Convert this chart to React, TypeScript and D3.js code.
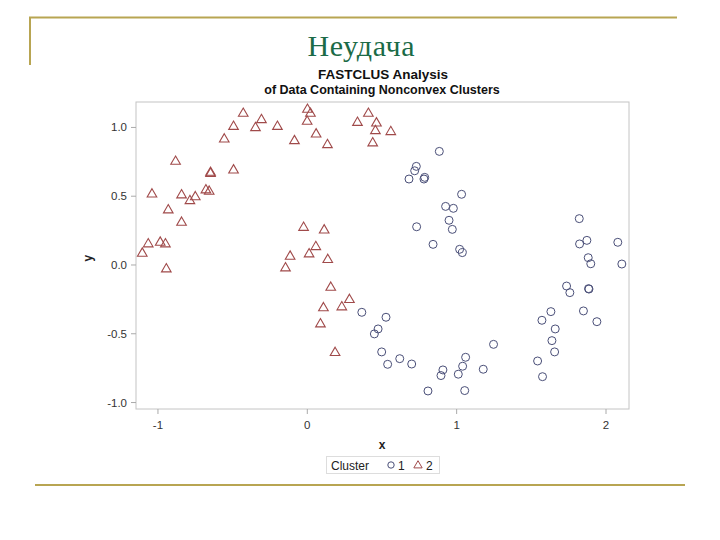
import React from "react";
import * as d3 from "d3";

const cluster1X = [0.884, 0.730, 0.719, 0.681, 0.786, 0.781, 1.033, 0.926, 0.978, 0.949, 0.971, 0.732, 0.842, 1.020, 1.038,
  0.365, 0.527, 0.474, 0.449, 0.498, 0.538, 0.619, 0.699, 0.808, 0.908, 0.895, 1.011, 1.040, 1.060, 1.054, 1.178, 1.247,
  1.821, 1.823, 1.872, 2.079, 1.881, 1.898, 2.106, 1.736, 1.758, 1.883, 1.886, 1.849, 1.939, 1.631, 1.571, 1.660, 1.638, 1.656, 1.542, 1.575];
const cluster1Y = [0.826, 0.717, 0.685, 0.625, 0.637, 0.625, 0.514, 0.426, 0.412, 0.325, 0.259, 0.278, 0.150, 0.114, 0.090,
  -0.344, -0.380, -0.465, -0.501, -0.632, -0.722, -0.681, -0.720, -0.916, -0.763, -0.804, -0.794, -0.736, -0.671, -0.913, -0.758, -0.577,
  0.337, 0.153, 0.179, 0.165, 0.053, 0.009, 0.007, -0.153, -0.201, -0.172, -0.175, -0.334, -0.412, -0.339, -0.402, -0.465, -0.550, -0.632, -0.698, -0.812];

const cluster2X = [-1.105, -1.065, -1.040, -0.985, -0.950, -0.944, -0.931, -0.882, -0.842, -0.842, -0.786, -0.750, -0.679, -0.657, -0.648, -0.648,
  -0.556, -0.494, -0.494, -0.429, -0.347, -0.307, -0.200, -0.086, 0.001, 0.021, -0.001, 0.059, -0.025, 0.012, 0.057, -0.146, -0.115,
  0.135, 0.336, 0.409, 0.463, 0.456, 0.438, 0.559, 0.113, 0.137, 0.157,
  0.282, 0.108, 0.231, 0.088, 0.186];
const cluster2Y = [0.090, 0.158, 0.520, 0.170, 0.158, -0.024, 0.405, 0.758, 0.514, 0.315, 0.472, 0.500, 0.550, 0.540, 0.678, 0.670,
  0.920, 0.695, 1.012, 1.107, 1.003, 1.061, 1.012, 0.908, 1.136, 1.107, 1.049, 0.957, 0.278, 0.085, 0.138, -0.017, 0.068,
  0.879, 1.041, 1.107, 1.037, 0.981, 0.892, 0.974, 0.259, 0.044, -0.158,
  -0.247, -0.307, -0.300, -0.424, -0.632];

const xTicks = [-1, 0, 1, 2];
const yTicks = [-1.0, -0.5, 0.0, 0.5, 1.0];

const C1 = "#4a4f78";
const C2 = "#a04a4a";
const GOLD = "#b8a552";
const FONT = "'Liberation Sans', Arial, sans-serif";

export default function App() {
  const W = 720, H = 540;
  const left = 136, right = 629, top = 102, bottom = 409;
  const x = d3.scaleLinear().domain([-1.147, 2.154]).range([left, right]);
  const y = d3.scaleLinear().domain([-1.047, 1.185]).range([bottom, top]);
  const tri = d3.symbol().type(d3.symbolTriangle).size(40)();

  const c1 = cluster1X.map((v, i) => [v, cluster1Y[i]]);
  const c2 = cluster2X.map((v, i) => [v, cluster2Y[i]]);

  return (
    <svg width={W} height={H} style={{ position: "absolute", left: 0, top: 0, background: "#fff" }}>
      <rect width={W} height={H} fill="#fff" />
      <line x1={29} y1={17.5} x2={677} y2={17.5} stroke={GOLD} strokeWidth={2} />
      <line x1={30} y1={17} x2={30} y2={65} stroke={GOLD} strokeWidth={2} />
      <line x1={35} y1={485} x2={685} y2={485} stroke={GOLD} strokeWidth={2} />
      <text x={361} y={56} textAnchor="middle" fontFamily="'Liberation Serif', 'DejaVu Serif', serif" fontSize={30} fill="#1b6b47" textLength={107}>Неудача</text>
      <text x={383} y={79} textAnchor="middle" fontFamily={FONT} fontWeight="bold" fontSize={13.5} fill="#111">FASTCLUS Analysis</text>
      <text x={382} y={94} textAnchor="middle" fontFamily={FONT} fontWeight="bold" fontSize={12.5} fill="#111">of Data Containing Nonconvex Clusters</text>

      <rect x={left} y={top} width={right - left} height={bottom - top} fill="none" stroke="#c4c4c4" strokeWidth={1} />
      {xTicks.map((t) => (
        <g key={"x" + t}>
          <line x1={x(t)} x2={x(t)} y1={bottom} y2={bottom + 5} stroke="#aaa" />
          <text x={x(t)} y={bottom + 20} textAnchor="middle" fontFamily={FONT} fontSize={11.5} fill="#333">{t}</text>
        </g>
      ))}
      {yTicks.map((t) => (
        <g key={"y" + t}>
          <line x1={left - 5} x2={left} y1={y(t)} y2={y(t)} stroke="#aaa" />
          <text x={left - 9} y={y(t) + 4} textAnchor="end" fontFamily={FONT} fontSize={11.5} fill="#333">{t.toFixed(1)}</text>
        </g>
      ))}
      <text x={382} y={449} textAnchor="middle" fontFamily={FONT} fontSize={12} fontWeight="bold" fill="#222">x</text>
      <text transform={`translate(92,${y(0.05)}) rotate(-90)`} textAnchor="middle" fontFamily={FONT} fontSize={12} fontWeight="bold" fill="#222">y</text>

      {c1.map((d, i) => (
        <circle key={"c" + i} cx={x(d[0])} cy={y(d[1])} r={4} fill="none" stroke={C1} strokeWidth={1} />
      ))}
      {c2.map((d, i) => (
        <path key={"t" + i} d={tri as string} transform={`translate(${x(d[0])},${y(d[1]) + 0.8})`} fill="none" stroke={C2} strokeWidth={1.1} />
      ))}

      <rect x={326.5} y={456.5} width={113} height={17} fill="#fff" stroke="#ddd" />
      <text x={331} y={469.5} fontFamily={FONT} fontSize={12} fill="#222">Cluster</text>
      <circle cx={391} cy={465} r={3.2} fill="none" stroke={C1} />
      <text x={398} y={469.5} fontFamily={FONT} fontSize={12} fill="#222">1</text>
      <path d={d3.symbol().type(d3.symbolTriangle).size(30)() as string} transform="translate(418,465.5)" fill="none" stroke={C2} />
      <text x={426} y={469.5} fontFamily={FONT} fontSize={12} fill="#222">2</text>
    </svg>
  );
}
